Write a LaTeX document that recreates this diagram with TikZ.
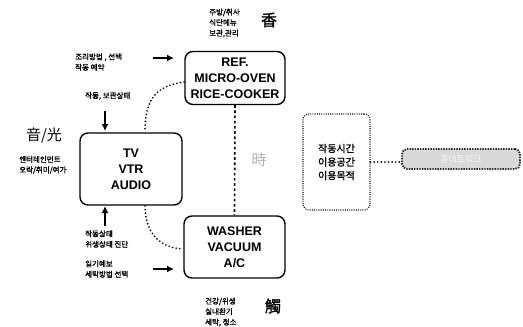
\documentclass[tikz,border=0pt]{standalone}
\usepackage{fontspec}
\setmainfont{Liberation Sans}
\newfontfamily\kr{Noto Sans CJK KR}
\newfontfamily\krb{Noto Sans CJK KR}[FakeBold=1.6]
\usetikzlibrary{arrows.meta}
\tikzset{
  dev/.style={draw, line width=1.4pt, rounded corners=8pt, align=center,
    font=\fontsize{12.5}{16}\selectfont\bfseries, inner sep=0pt},
  note/.style={align=left, anchor=west, inner sep=0pt,
    font=\krb\fontsize{7.5}{10.5}\selectfont},
  big/.style={inner sep=0pt, font=\kr\fontsize{15}{16}\selectfont},
  vdash/.style={line width=1.6pt, dash pattern=on 2.6pt off 2.6pt},
  rdots/.style={line width=1.9pt, line cap=round, dash pattern=on 0pt off 3.6pt},
  arr/.style={line width=2pt, -{Latex[length=7pt,width=7pt]}}
}
\begin{document}
\begin{tikzpicture}[x=1pt,y=-1pt]
\useasboundingbox (0,0) rectangle (523,327);
% device boxes
\node[dev, minimum width=100pt, minimum height=53pt] (ref) at (235,78) {REF.\\MICRO-OVEN\\RICE-COOKER};
\node[dev, minimum width=102pt, minimum height=72pt] (tv) at (131,169) {TV\\VTR\\AUDIO};
\node[dev, minimum width=101pt, minimum height=62pt] (wash) at (234.5,247) {WASHER\\VACUUM\\A/C};
% dotted box and gray box
\node[draw, line width=1.1pt, dash pattern=on 0.9pt off 1.3pt, rounded corners=6pt, minimum width=67pt, minimum height=96pt,
  align=center, inner sep=0pt, font=\krb\fontsize{10}{13.5}\selectfont] (dbox) at (336.5,162)
  {작동시간\\이용공간\\이용목적};
\node[draw=black!85, line width=1.8pt, dash pattern=on 1.4pt off 1.2pt, rounded corners=5pt, fill=gray!30, text=gray!10,
  minimum width=118pt, minimum height=20pt, inner sep=0pt, font=\kr\fontsize{9}{10}\selectfont] (gbox) at (461,159) {홈네트워크};
% connectors
\draw[vdash] (ref.south) -- (wash.north);
\draw[rdots] (dbox.east) -- (dbox.east -| gbox.west);
\coordinate (c1s) at (184,82);
\coordinate (c1e) at (145,132);
\coordinate (c2s) at (145,206);
\coordinate (c2e) at (183,249);
\draw[rdots] (c1s) .. controls (155,86) and (145,100) .. (c1e);
\draw[rdots] (c2s) .. controls (145,236) and (163,248) .. (c2e);
% arrows
\coordinate (a1s) at (153,58); \coordinate (a1e) at (174,58);
\coordinate (a2s) at (105,111); \coordinate (a2e) at (105,131);
\coordinate (a3s) at (105,226); \coordinate (a3e) at (105,206);
\coordinate (a4s) at (153,269); \coordinate (a4e) at (174,269);
\draw[arr] (a1s) -- (a1e);
\draw[arr] (a2s) -- (a2e);
\draw[arr] (a3s) -- (a3e);
\draw[arr] (a4s) -- (a4e);
% labels
\node[note] (t1) at (209,23) {주방/취사\\식단메뉴\\보관,관리};
\node[big, font=\krb\fontsize{16}{16}\selectfont] (k1) at (269,20) {香};
\node[note] (t2) at (75,62) {조리방법 , 선택\\작동 예약};
\node[note] (t3) at (85,96) {작동, 보관상태};
\node[big] (k2) at (44,136) {音/光};
\node[note] (t4) at (19,165) {엔터테인먼트\\오락/취미/여가};
\node[big, text=gray!60] (k3) at (259,160) {時};
\node[note] (t5) at (85,239) {작동상태\\위생상태 진단};
\node[note] (t6) at (85,269) {일기예보\\세탁방법 선택};
\node[note] (t7) at (205,312) {건강/위생\\실내환기\\세탁, 청소};
\node[big, font=\krb\fontsize{16}{16}\selectfont] (k4) at (273,306) {觸};
\end{tikzpicture}
\end{document}
